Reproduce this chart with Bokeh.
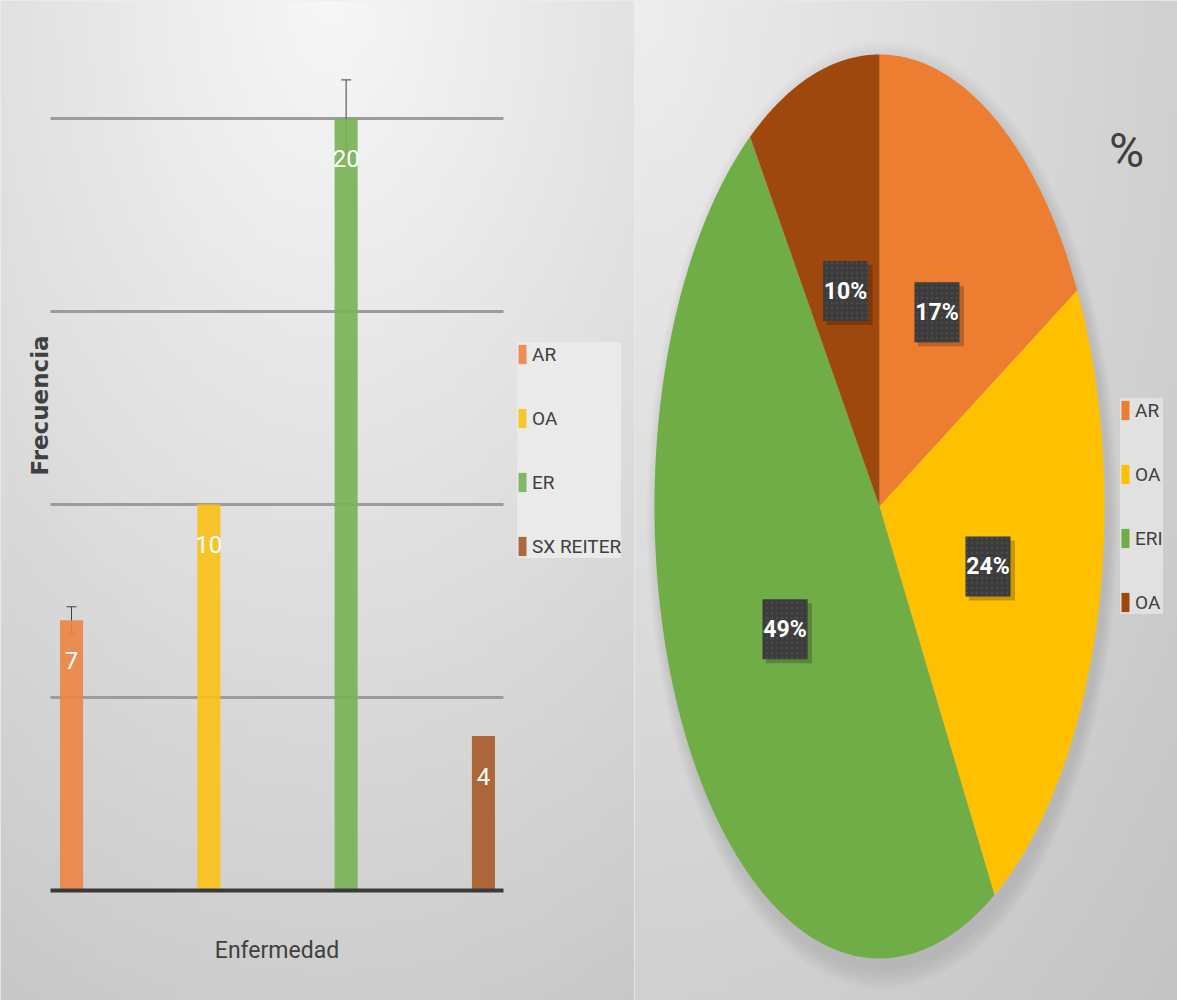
import numpy as np
from bokeh.plotting import figure
from bokeh.layouts import row
from bokeh.models import (ColumnDataSource, Range1d, Legend, LegendItem,
                          Whisker, TeeHead, Label)
from bokeh.core.properties import value
from bokeh.embed import file_html
from bokeh.resources import INLINE

# ---------------- data ----------------
categories = ["AR", "OA", "ER", "SX REITER"]
frequencies = [7, 10, 20, 4]
error_sizes = [0.35, 0, 1, 0]
bar_colors = ["#EA8748", "#F8C21A", "#7BB257", "#A85C2B"]
grid_ticks = [5, 10, 15, 20]
x_title = "Enfermedad"
y_title = "Frecuencia"

pie_labels = ["AR", "OA", "ERI", "OA"]
pie_values = [7, 10, 20, 4]
pie_colors = ["#ED7D31", "#FFC000", "#70AD47", "#9E480E"]
pie_title = "%"

FONT = "Roboto"
DARK = "#404040"


def gradient(nx, ny, cx, cy, light, k):
    """Grey background gradient (rows go bottom -> top)."""
    u = (np.arange(nx) + 0.5) / nx
    v = (np.arange(ny) + 0.5) / ny
    U, V = np.meshgrid(u, v)
    d = np.sqrt((U - cx) ** 2 + (V - cy) ** 2)
    g = np.clip(light - k * d, 0, 255).astype(np.uint32)
    return (255 << 24) | (g << 16) | (g << 8) | g


# ---------------- bar chart (layout in pixels of the figure) ----------------
W1, H1 = 634, 1000
AREA_L, AREA_R = 50, 503       # horizontal extent of the plotting area
BASE_Y = 890                   # baseline (value 0), px from top
PPY = 38.6                     # px per unit of frequency
X0, X1 = -0.153, 3.146         # category-axis extent of the plotting area
PPX = (AREA_R - AREA_L) / (X1 - X0)

xr = Range1d(X0 - AREA_L / PPX, X1 + (W1 - AREA_R) / PPX)
yr = Range1d(-(H1 - BASE_Y) / PPY, BASE_Y / PPY)

positions = list(range(len(categories)))
bar_src = ColumnDataSource(dict(x=positions, top=frequencies, color=bar_colors,
                                label=[str(v) for v in frequencies], cat=categories))

p1 = figure(width=W1, height=H1, x_range=xr, y_range=yr,
            output_backend="svg", toolbar_location=None,
            min_border=0, min_border_left=0, min_border_right=0,
            min_border_top=0, min_border_bottom=0)
p1.background_fill_color = "#e0e0e0"
p1.border_fill_color = "#e0e0e0"
p1.outline_line_color = None
p1.xaxis.visible = False
p1.yaxis.visible = False
p1.grid.visible = False

p1.image_rgba(image=[gradient(80, 100, 0.52, 1.0, 247, 42)], x=xr.start, y=yr.start,
              dw=xr.end - xr.start, dh=yr.end - yr.start, level="image")

# horizontal grid lines at the tick values, limited to the plotting area
p1.segment(x0=[X0] * len(grid_ticks), x1=[X1] * len(grid_ticks), y0=grid_ticks, y1=grid_ticks,
           line_color="#9c9c9c", line_width=3, level="underlay")

bars = p1.vbar(x="x", top="top", width=0.168, bottom=0, color="color", source=bar_src,
               line_color=None, fill_alpha=0.92)

# category axis baseline at value 0
p1.segment(x0=[X0], x1=[X1], y0=[0], y1=[0], line_color="#3a3a3a", line_width=4)

p1.text(x="x", y="top", text="label", source=bar_src, text_color="white",
        text_font=value(FONT), text_font_size="24px", text_align="center",
        text_baseline="middle", y_offset=40)

err_x = [x for x, e in zip(positions, error_sizes) if e > 0]
err_up = [v + e for v, e in zip(frequencies, error_sizes) if e > 0]
err_lo = [v - e for v, e in zip(frequencies, error_sizes) if e > 0]
err_src = ColumnDataSource(dict(x=err_x, upper=err_up, lower=err_lo))
wk = Whisker(base="x", upper="upper", lower="lower", source=err_src, dimension="height",
             line_color=DARK, line_width=1,
             upper_head=TeeHead(size=10, line_color=DARK, line_width=1),
             lower_head=TeeHead(size=10, line_color=DARK, line_width=1))
p1.add_layout(wk)

p1.add_layout(Label(x=(X0 + X1) / 2, y=-60 / PPY, text=x_title,
                    text_align="center", text_baseline="middle",
                    text_font=FONT, text_font_size="23px", text_color=DARK))
p1.add_layout(Label(x=X0 - 11 / PPX, y=485 / PPY, text=y_title,
                    angle=np.pi / 2, text_align="center", text_baseline="middle",
                    text_font="DejaVu Sans", text_font_style="bold", text_font_size="23px",
                    text_color=DARK))

leg1 = Legend(items=[LegendItem(label=c, renderers=[bars], index=i) for i, c in enumerate(categories)],
              location=(517, H1 - 558), orientation="vertical")
leg1.glyph_width = 10
leg1.glyph_height = 24
leg1.label_height = 24
leg1.label_standoff = 5
leg1.spacing = 40
leg1.padding = 9
leg1.margin = 0
leg1.label_text_font = FONT
leg1.label_text_font_size = "19px"
leg1.label_text_color = DARK
leg1.background_fill_color = "#ebebeb"
leg1.background_fill_alpha = 0.9
leg1.border_line_color = None
p1.add_layout(leg1)

# ---------------- pie chart ----------------
W2, H2 = 543, 1000
cx_px, cy_px = 245, 506     # centre from left / top of the figure
rx_px, ry_px = 225, 452
xr2 = Range1d(-cx_px / rx_px, (W2 - cx_px) / rx_px)
yr2 = Range1d(-(H2 - cy_px) / ry_px, cy_px / ry_px)
p2 = figure(width=W2, height=H2, x_range=xr2, y_range=yr2,
            output_backend="svg", toolbar_location=None,
            min_border=0, min_border_left=0, min_border_right=0,
            min_border_top=0, min_border_bottom=0)
p2.axis.visible = False
p2.grid.visible = False
p2.outline_line_color = None
p2.background_fill_color = "#d8d8d8"
p2.border_fill_color = "#d8d8d8"

p2.image_rgba(image=[gradient(80, 100, 0.0, 1.0, 238, 30)], x=xr2.start, y=yr2.start,
              dw=xr2.end - xr2.start, dh=yr2.end - yr2.start, level="image")

# soft shadow around the pie
for k in range(6):
    s = 1.0 + 0.008 * (k + 1)
    p2.ellipse(x=[3 / rx_px], y=[-9 / ry_px], width=[2 * s], height=[2 * s],
               fill_color="black", fill_alpha=0.014, line_color=None)

total = float(sum(pie_values))
fracs = [v / total for v in pie_values]
cum = np.concatenate([[0.0], np.cumsum(fracs)])
xs, ys, lx, ly, ltxt = [], [], [], [], []
for i in range(len(pie_values)):
    t = np.linspace(cum[i], cum[i + 1], 120) * 2 * np.pi
    xs.append(list(np.concatenate([[0.0], np.sin(t)])))
    ys.append(list(np.concatenate([[0.0], np.cos(t)])))
    mid = (cum[i] + cum[i + 1]) * np.pi
    lx.append(0.5 * np.sin(mid))
    ly.append(0.5 * np.cos(mid))
    ltxt.append(f"{round(fracs[i] * 100)}%")

pie_src = ColumnDataSource(dict(xs=xs, ys=ys, color=pie_colors, label=pie_labels))
slices = p2.patches(xs="xs", ys="ys", fill_color="color", line_color=None, source=pie_src)

lab_src = ColumnDataSource(dict(x=lx, y=ly, text=ltxt,
                                sx=[v + 4 / rx_px for v in lx], sy=[v - 4 / ry_px for v in ly]))
p2.rect(x="sx", y="sy", width=46, height=60, width_units="screen", height_units="screen",
        source=lab_src, fill_color="black", fill_alpha=0.22, line_color=None)
p2.rect(x="x", y="y", width=45, height=60, width_units="screen", height_units="screen",
        source=lab_src, fill_color="#3c3c3c", line_color=None,
        hatch_pattern="dot", hatch_color="#4a4a4a", hatch_scale=5, hatch_weight=1)
p2.text(x="x", y="y", text="text", source=lab_src, text_color="white",
        text_font=value(FONT), text_font_style="bold", text_font_size="23px",
        text_align="center", text_baseline="middle")

p2.add_layout(Label(x=(1126 - W1 - cx_px) / rx_px, y=(cy_px - 150) / ry_px, text=pie_title,
                    text_align="center", text_baseline="middle", text_font=FONT,
                    text_font_size="48px", text_color=DARK))

leg2 = Legend(items=[LegendItem(label=c, renderers=[slices], index=i) for i, c in enumerate(pie_labels)],
              location=(486, H2 - 614), orientation="vertical")
leg2.glyph_width = 10
leg2.glyph_height = 24
leg2.label_height = 24
leg2.label_standoff = 5
leg2.spacing = 40
leg2.padding = 9
leg2.margin = 0
leg2.label_text_font = FONT
leg2.label_text_font_size = "19px"
leg2.label_text_color = DARK
leg2.background_fill_color = "#e3e3e3"
leg2.background_fill_alpha = 0.9
leg2.border_line_color = None
p2.add_layout(leg2)

layout = row(p1, p2)
open("out.html", "w").write(file_html(layout, INLINE))
